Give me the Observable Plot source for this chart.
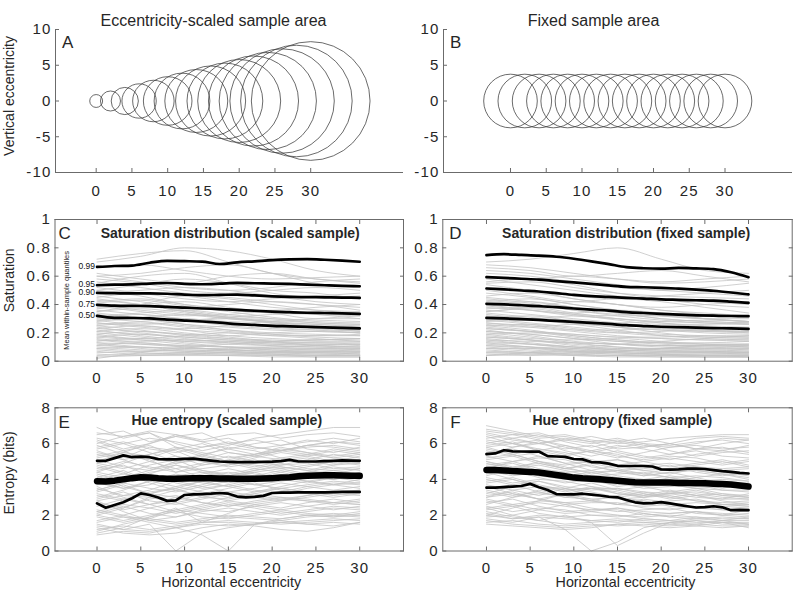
<!DOCTYPE html>
<html><head><meta charset="utf-8">
<script src="https://cdn.jsdelivr.net/npm/d3@7"></script>
<script src="https://cdn.jsdelivr.net/npm/@observablehq/plot@0.6"></script>
<style>
body{margin:0;background:#fff;}
#root{position:relative;width:800px;height:593px;overflow:hidden;background:#fff;}
</style></head><body><div id="root"></div>
<script>
// ---------- data ----------
const eccTicks = [0,5,10,15,20,25,30];
const vertTicks = [-10,-5,0,5,10];
const satTicks = [0,0.2,0.4,0.6,0.8,1];
const entTicks = [0,2,4,6,8];

const circleX = [0,2,4,6,8,10,12,14,16,18,20,22,24,26,28,30];
const radiusScaled = [0.9,1.4,1.9,2.4,2.9,3.4,3.9,4.4,4.9,5.3,5.8,6.3,6.8,7.3,7.8,8.3];
const radiusFixed = [3.75,3.75,3.75,3.75,3.75,3.75,3.75,3.75,3.75,3.75,3.75,3.75,3.75,3.75,3.75,3.75];

const satX = [0,5,10,15,20,25,30];
const satScaledGray = [
[.72,.76,.78,.70,.62,.58,.56],[.70,.74,.80,.78,.72,.64,.60],[.66,.68,.64,.60,.58,.59,.60],[.62,.58,.55,.60,.62,.58,.55],
[.60,.62,.66,.68,.62,.55,.52],[.58,.55,.50,.48,.50,.52,.50],[.56,.52,.48,.45,.42,.40,.38],[.55,.60,.62,.55,.48,.45,.46],
[.52,.48,.44,.42,.44,.46,.48],[.50,.46,.40,.36,.34,.33,.32],[.48,.50,.52,.50,.46,.42,.40],[.46,.42,.38,.40,.42,.40,.36],
[.45,.48,.46,.42,.38,.36,.35],[.43,.40,.36,.32,.30,.29,.28],[.42,.44,.40,.37,.36,.38,.40],[.40,.36,.33,.30,.28,.26,.25],
[.38,.40,.42,.38,.34,.30,.30],[.36,.33,.30,.28,.27,.26,.24],[.35,.37,.34,.30,.28,.30,.32],[.33,.30,.26,.24,.22,.21,.20],
[.32,.34,.36,.33,.30,.27,.26],[.30,.28,.25,.22,.20,.19,.18],[.29,.26,.28,.30,.28,.24,.22],[.28,.30,.26,.22,.19,.17,.16],
[.27,.24,.22,.20,.18,.18,.19],[.26,.28,.30,.27,.24,.22,.20],[.25,.22,.18,.16,.15,.14,.14],[.24,.20,.17,.15,.13,.12,.12],
[.23,.25,.22,.18,.16,.15,.15],[.22,.18,.15,.14,.13,.13,.12],[.21,.23,.20,.17,.14,.11,.10],[.20,.17,.14,.12,.11,.10,.10],
[.19,.16,.18,.20,.18,.16,.14],[.18,.15,.12,.10,.09,.09,.08],[.17,.19,.16,.13,.11,.10,.09],[.16,.13,.11,.10,.09,.08,.08],
[.15,.12,.10,.08,.07,.07,.06],[.14,.16,.13,.10,.08,.07,.07],[.13,.10,.08,.07,.06,.06,.05],[.12,.09,.07,.06,.06,.05,.05],
[.11,.13,.10,.08,.07,.06,.06],[.10,.08,.07,.06,.05,.05,.04],[.09,.07,.06,.05,.05,.04,.04],[.08,.06,.05,.05,.04,.04,.04],
[.07,.05,.05,.04,.04,.03,.03],[.05,.04,.04,.04,.03,.03,.03],[.03,.04,.05,.06,.05,.04,.04],[.02,.06,.10,.12,.14,.15,.16],
[.60,.56,.52,.50,.52,.56,.58],[.50,.54,.58,.55,.50,.48,.44],
[.44,.40,.35,.31,.29,.27,.26],[.41,.43,.39,.35,.31,.28,.27],[.39,.35,.32,.33,.35,.33,.30],[.37,.39,.35,.31,.27,.25,.24],
[.34,.31,.29,.31,.33,.34,.33],[.31,.33,.29,.25,.23,.22,.22],[.29,.31,.33,.31,.27,.23,.21],[.27,.25,.23,.25,.26,.24,.21],
[.25,.27,.24,.21,.19,.18,.18],[.23,.21,.19,.18,.20,.21,.20],[.21,.19,.17,.15,.14,.15,.16],[.19,.21,.19,.16,.14,.13,.13],
[.17,.15,.14,.13,.12,.12,.11],[.15,.14,.15,.14,.12,.11,.10],[.13,.12,.11,.10,.10,.09,.09],[.11,.10,.09,.09,.08,.08,.07],
[.09,.10,.09,.08,.07,.07,.07],[.06,.07,.08,.07,.06,.06,.05],[.04,.05,.06,.08,.10,.11,.12],[.35,.40,.46,.44,.40,.36,.34]
];
const satFixedGray = [
[.70,.72,.76,.80,.72,.64,.62],[.68,.66,.62,.58,.55,.56,.58],[.66,.64,.60,.62,.64,.60,.56],[.62,.60,.56,.52,.50,.48,.46],
[.60,.58,.60,.58,.56,.58,.60],[.58,.54,.50,.46,.44,.42,.40],[.56,.58,.54,.48,.44,.40,.38],[.54,.50,.46,.44,.46,.48,.50],
[.52,.50,.44,.40,.36,.34,.32],[.50,.46,.42,.44,.42,.38,.34],[.48,.45,.40,.36,.34,.33,.32],[.46,.48,.44,.40,.38,.40,.42],
[.45,.42,.38,.34,.30,.28,.27],[.43,.40,.36,.33,.32,.30,.28],[.42,.44,.40,.36,.32,.30,.30],[.40,.36,.32,.30,.28,.27,.26],
[.38,.36,.34,.36,.34,.30,.28],[.36,.33,.30,.27,.24,.22,.21],[.35,.37,.33,.29,.26,.26,.27],[.33,.30,.27,.24,.22,.20,.19],
[.32,.30,.32,.30,.27,.24,.22],[.30,.27,.24,.21,.19,.18,.17],[.29,.26,.22,.20,.21,.22,.22],[.28,.29,.26,.22,.18,.16,.15],
[.27,.24,.21,.18,.16,.15,.15],[.26,.24,.26,.24,.20,.17,.16],[.25,.22,.18,.15,.13,.12,.12],[.24,.21,.17,.14,.12,.11,.11],
[.23,.21,.19,.17,.16,.15,.14],[.22,.18,.14,.12,.11,.11,.10],[.21,.19,.16,.12,.10,.09,.09],[.20,.17,.13,.10,.09,.09,.08],
[.19,.16,.15,.16,.14,.12,.11],[.18,.15,.11,.09,.08,.08,.07],[.17,.15,.12,.10,.08,.07,.07],[.16,.13,.10,.08,.07,.07,.06],
[.15,.12,.09,.07,.06,.06,.06],[.14,.12,.10,.08,.07,.06,.05],[.13,.10,.08,.06,.05,.05,.05],[.12,.10,.07,.05,.05,.04,.04],
[.11,.09,.07,.06,.05,.04,.04],[.10,.08,.06,.05,.04,.04,.04],[.09,.07,.05,.04,.04,.04,.03],[.08,.06,.05,.04,.04,.03,.03],
[.07,.06,.04,.04,.03,.03,.03],[.06,.05,.04,.03,.03,.03,.03],[.05,.04,.05,.07,.09,.10,.10],[.04,.06,.09,.12,.14,.16,.18],
[.64,.62,.58,.54,.50,.52,.55],[.55,.56,.52,.48,.46,.45,.44],
[.44,.41,.36,.32,.29,.27,.26],[.41,.42,.38,.34,.30,.28,.27],[.39,.36,.33,.32,.32,.30,.28],[.37,.38,.34,.30,.27,.25,.24],
[.34,.31,.28,.27,.28,.29,.28],[.31,.32,.28,.24,.22,.21,.21],[.29,.30,.29,.26,.23,.21,.20],[.27,.25,.22,.22,.23,.22,.20],
[.25,.26,.23,.20,.18,.17,.17],[.23,.21,.19,.17,.17,.18,.18],[.21,.19,.16,.14,.13,.13,.14],[.19,.20,.18,.15,.13,.12,.12],
[.17,.15,.13,.12,.11,.11,.10],[.15,.14,.13,.12,.11,.10,.09],[.13,.12,.10,.09,.09,.08,.08],[.11,.10,.09,.08,.07,.07,.06],
[.09,.09,.08,.07,.06,.06,.06],[.06,.06,.07,.06,.05,.05,.05],[.04,.05,.06,.07,.09,.11,.12],[.35,.38,.42,.40,.36,.33,.31]
];

const qX = [0,2,4,6,8,10,12,14,16,18,20,22,24,26,28,30];
const qLabels = ["0.99","0.95","0.90","0.75","0.50"];
const satScaledQ = [
[.665,.672,.675,.695,.708,.706,.703,.686,.698,.705,.713,.718,.720,.716,.710,.702],
[.536,.540,.542,.548,.552,.546,.543,.547,.553,.550,.548,.545,.540,.536,.532,.529],
[.482,.480,.478,.478,.476,.470,.466,.468,.470,.464,.458,.454,.452,.451,.449,.447],
[.398,.392,.390,.389,.384,.378,.372,.368,.362,.356,.350,.346,.342,.340,.337,.334],
[.320,.306,.305,.302,.294,.287,.280,.272,.262,.256,.249,.246,.242,.239,.235,.231]
];
const satFixedQ = [
[.748,.755,.750,.745,.737,.723,.705,.685,.664,.656,.653,.658,.655,.650,.628,.593],
[.593,.588,.582,.576,.565,.556,.546,.535,.525,.522,.518,.512,.505,.497,.485,.471],
[.513,.507,.499,.492,.480,.468,.459,.454,.447,.442,.436,.433,.430,.427,.420,.412],
[.405,.401,.395,.388,.381,.372,.364,.357,.347,.340,.334,.329,.324,.321,.319,.318],
[.306,.302,.297,.291,.284,.277,.270,.263,.254,.248,.243,.240,.237,.234,.231,.228]
];

const entX = [0,3,6,9,12,15,18,21,24,27,30];
const entScaledGray = [
[6.9,6.3,6.6,6.0,5.6,5.9,6.3,6.5,6.7,6.9,6.9],[6.5,6.7,6.1,6.4,6.6,6.0,5.7,5.9,6.2,6.0,6.3],
[6.2,5.7,6.0,6.5,6.1,6.3,5.8,5.6,5.9,6.1,5.9],[6.0,6.4,6.6,5.8,5.4,5.7,6.0,6.2,5.7,5.5,5.8],
[5.9,5.4,5.2,5.7,6.0,5.5,5.3,5.6,5.9,5.8,5.6],[5.7,6.0,5.5,5.0,5.3,5.8,5.6,5.2,5.4,5.7,5.5],
[5.5,5.2,5.8,5.6,5.0,4.8,5.2,5.5,5.3,5.0,5.3],[5.3,5.6,5.0,4.6,4.9,5.3,5.0,4.8,5.1,5.4,5.2],
[5.1,4.7,4.5,5.0,5.4,5.0,4.7,5.0,5.2,4.9,5.0],[4.9,5.3,5.1,4.4,4.6,4.8,5.1,4.7,4.5,4.8,4.9],
[4.7,4.3,4.8,5.1,4.5,4.2,4.5,4.8,4.9,4.6,4.7],[4.5,4.8,4.2,4.0,4.3,4.6,4.3,4.1,4.4,4.7,4.5],
[4.3,3.9,4.4,4.6,4.1,3.9,4.2,4.5,4.2,4.0,4.3],[4.1,4.5,3.9,3.6,3.9,4.2,4.4,4.0,3.8,4.1,4.2],
[3.9,3.5,3.7,4.2,4.4,4.0,3.7,3.9,4.1,4.3,4.0],[3.7,4.0,4.3,3.8,3.5,3.7,4.0,4.2,3.9,3.7,3.8],
[3.5,3.1,3.4,3.9,3.6,3.3,3.5,3.8,3.6,3.4,3.6],[3.3,3.7,3.2,3.0,3.4,3.7,3.4,3.2,3.5,3.7,3.5],
[3.1,2.8,3.3,3.5,3.0,2.9,3.2,3.5,3.3,3.1,3.3],[2.9,3.3,2.8,2.6,2.9,3.2,3.0,2.8,3.0,3.2,3.1],
[2.7,2.4,2.9,3.1,2.7,2.5,2.8,3.0,2.8,2.7,2.9],[2.5,2.9,2.6,2.2,2.5,2.8,2.6,2.4,2.7,2.9,2.7],
[2.3,2.0,2.4,2.7,2.3,2.2,2.5,2.7,2.5,2.3,2.5],[2.1,2.5,2.1,1.9,2.2,2.4,2.2,2.0,2.2,2.4,2.3],
[1.9,1.6,1.9,2.2,1.9,1.8,2.0,2.2,2.0,1.9,2.1],[1.7,2.0,1.7,1.5,1.7,1.9,1.8,1.7,1.9,2.0,1.9],
[1.5,1.2,1.1,1.3,1.6,1.6,1.5,1.6,1.7,1.8,1.7],[1.3,1.0,0.9,1.0,1.3,1.5,1.4,1.2,1.1,1.3,1.6],
[1.1,1.5,1.8,2.3,2.6,3.0,3.2,3.0,2.9,2.7,2.6],[1.0,1.3,1.9,2.4,1.6,2.1,2.6,2.8,3.1,3.3,3.4],
[6.1,5.6,5.9,5.3,4.8,5.1,5.4,5.8,5.5,5.2,5.1],[5.6,5.1,4.6,4.9,5.2,4.9,4.6,4.4,4.7,5.0,4.8],
[4.8,4.4,3.8,3.4,3.7,4.1,4.4,4.6,4.3,4.0,4.4],[4.2,3.6,3.2,3.5,3.9,3.6,3.3,3.6,3.9,4.1,3.9],
[3.6,3.0,2.6,2.8,3.2,3.5,3.8,3.4,3.2,3.0,3.2],[2.8,2.2,1.7,1.9,2.3,2.6,2.4,2.1,2.3,2.5,2.4],
[5.0,5.5,6.0,6.4,6.1,5.7,5.4,5.6,5.9,6.1,6.0],[4.4,4.9,5.4,5.7,5.3,5.0,5.3,5.6,5.4,5.2,5.4],
[3.4,3.8,4.3,4.8,4.5,4.3,4.6,4.9,4.6,4.5,4.6],[2.0,2.4,3.0,3.4,3.1,2.8,3.1,3.3,3.6,3.8,3.7],
[1.4,1.2,1.5,0.0,1.0,1.3,1.5,1.6,1.5,1.4,1.6],[2.2,1.9,1.6,1.3,0.9,0.0,1.5,1.8,2.0,1.9,2.0],
[6.3,6.0,6.3,6.1,5.8,6.0,6.2,5.9,6.1,6.3,6.1],[5.8,6.1,5.7,5.5,5.8,6.1,5.8,5.6,5.8,5.9,5.7],
[5.4,5.1,5.4,5.8,5.5,5.2,5.4,5.7,5.5,5.3,5.5],[5.2,5.5,5.3,4.9,5.1,5.5,5.3,5.1,5.3,5.6,5.4],
[4.9,4.6,5.0,5.3,5.0,4.7,4.9,5.2,5.0,4.8,5.1],[4.6,5.0,4.7,4.4,4.8,5.0,4.8,4.6,4.8,5.0,4.9],
[4.4,4.1,4.5,4.8,4.4,4.2,4.5,4.7,4.5,4.3,4.6],[4.0,4.3,4.1,3.9,4.2,4.4,4.2,4.0,4.3,4.5,4.3],
[3.8,3.5,3.9,4.1,3.8,3.6,3.9,4.1,3.9,3.7,4.0],[3.4,3.8,3.5,3.3,3.6,3.9,3.7,3.5,3.7,3.9,3.8],
[3.2,2.9,3.2,3.6,3.3,3.0,3.3,3.5,3.3,3.2,3.4],[2.8,3.1,3.0,2.7,3.0,3.3,3.1,2.9,3.1,3.3,3.2],
[2.6,2.3,2.6,3.0,2.7,2.5,2.7,2.9,2.8,2.6,2.8],[2.2,2.6,2.4,2.1,2.4,2.7,2.5,2.3,2.5,2.7,2.6],
[2.0,1.7,2.0,2.3,2.1,1.9,2.1,2.3,2.1,2.0,2.2],[1.6,1.9,1.8,1.6,1.8,2.0,1.9,1.8,2.0,2.1,2.0],
[1.2,1.4,1.2,1.4,1.6,1.7,1.6,1.5,1.6,1.7,1.8],[0.9,1.1,1.0,1.3,1.5,1.4,1.5,1.7,1.5,1.6,1.5],
[6.6,6.4,6.7,6.5,6.2,6.5,6.6,6.3,6.5,6.6,6.4],[3.0,3.4,3.9,4.3,4.0,3.8,4.1,4.4,4.1,4.0,4.2]
];
const entFixedGray = [
[7.0,6.7,6.4,6.5,6.2,6.0,6.1,6.3,6.4,6.5,6.5],[6.7,6.5,6.6,6.2,6.0,6.2,5.9,5.8,6.0,6.3,6.2],
[6.5,6.2,6.0,6.3,6.1,5.7,5.8,6.0,5.7,5.6,5.9],[6.3,6.5,6.2,5.8,5.5,5.8,6.0,5.6,5.3,5.5,5.6],
[6.1,5.8,6.0,5.7,5.9,5.5,5.2,5.4,5.6,5.3,5.2],[5.9,6.1,5.6,5.3,5.6,5.4,5.0,5.2,5.0,4.8,5.0],
[5.7,5.4,5.7,5.5,5.1,4.8,5.0,4.7,4.9,5.1,4.8],[5.5,5.7,5.3,4.9,5.0,5.1,4.7,4.5,4.7,4.5,4.6],
[5.3,5.0,5.2,5.1,4.7,4.5,4.6,4.8,4.4,4.2,4.4],[5.1,5.3,4.9,4.6,4.8,4.4,4.2,4.4,4.5,4.3,4.1],
[4.9,4.6,4.8,4.5,4.2,4.3,4.4,4.1,3.9,4.0,3.9],[4.7,4.9,4.5,4.2,4.4,4.1,3.8,3.9,4.1,3.8,3.7],
[4.5,4.2,4.4,4.3,3.9,3.7,3.9,3.7,3.5,3.6,3.5],[4.3,4.5,4.1,3.8,4.0,3.8,3.5,3.6,3.7,3.4,3.3],
[4.1,3.8,4.0,3.9,3.6,3.4,3.6,3.3,3.1,3.2,3.1],[3.9,4.1,3.7,3.4,3.5,3.5,3.2,3.0,3.2,3.0,2.9],
[3.7,3.4,3.6,3.5,3.1,2.9,3.0,3.1,2.8,2.7,2.8],[3.5,3.7,3.3,3.0,3.2,3.0,2.7,2.8,2.9,2.6,2.6],
[3.3,3.0,3.2,3.1,2.8,2.6,2.8,2.5,2.4,2.5,2.4],[3.1,3.3,2.9,2.6,2.7,2.7,2.4,2.3,2.5,2.3,2.2],
[2.9,2.6,2.8,2.7,2.4,2.2,2.3,2.4,2.1,2.0,2.1],[2.7,2.9,2.5,2.2,2.3,2.3,2.0,2.1,2.2,2.0,1.9],
[2.5,2.2,2.4,2.3,2.0,1.9,2.1,1.9,1.8,1.9,1.8],[2.3,2.5,2.1,1.9,2.0,2.0,1.8,1.7,1.9,1.7,1.7],
[2.1,1.8,2.0,1.9,1.7,1.6,1.8,1.7,1.6,1.6,1.6],[1.9,2.0,1.7,1.5,1.6,1.7,1.6,1.5,1.7,1.5,1.5],
[1.7,1.5,1.4,1.3,1.4,1.5,1.6,1.5,1.4,1.3,1.4],[1.5,1.4,1.3,1.2,1.3,1.5,1.4,1.3,1.4,1.6,1.3],
[6.4,6.0,5.6,5.9,5.5,5.2,5.5,5.8,5.9,5.7,5.8],[5.8,5.4,5.0,4.6,4.9,4.6,4.3,4.6,4.8,5.0,4.7],
[5.0,4.6,4.2,4.4,4.0,3.6,3.8,4.1,3.8,3.5,3.8],[4.4,4.0,3.6,3.3,3.6,3.2,3.0,3.3,3.5,3.2,3.0],
[3.6,3.2,2.9,3.2,2.9,2.6,2.9,2.7,2.4,2.6,2.7],[2.6,3.0,3.4,3.1,2.8,3.1,3.3,3.0,2.8,2.6,2.5],
[2.0,2.4,2.8,3.2,3.5,3.3,3.0,3.2,3.4,3.1,3.0],[6.0,6.3,6.5,6.1,5.8,6.1,6.3,6.0,5.7,6.0,6.2],
[5.4,5.8,6.1,5.6,5.3,5.6,5.3,5.1,5.4,5.6,5.4],[4.6,5.0,5.3,4.9,4.5,4.8,4.5,4.3,4.6,4.4,4.2],
[3.2,3.6,3.9,3.5,3.8,3.4,3.1,3.4,3.1,2.9,3.2],[2.4,2.0,2.3,2.6,2.2,2.4,2.1,1.9,2.2,2.0,2.3],
[1.8,1.6,1.9,1.2,0.0,0.5,1.3,1.6,1.5,1.7,1.5],[2.2,1.9,1.7,2.0,1.6,0.3,1.0,1.6,1.8,1.7,1.9],
[6.8,6.6,6.3,6.4,6.1,6.3,6.0,5.9,6.1,6.2,6.0],[6.2,6.0,6.2,5.9,5.6,5.9,5.7,5.4,5.7,5.8,5.5],
[5.8,6.0,5.7,5.4,5.6,5.3,5.1,5.3,5.2,4.9,5.1],[5.6,5.3,5.5,5.2,4.9,5.1,4.8,4.9,4.7,4.6,4.7],
[5.2,5.4,5.0,4.8,5.0,4.7,4.5,4.6,4.5,4.3,4.3],[5.0,4.7,4.9,4.6,4.4,4.5,4.3,4.1,4.2,4.1,3.9],
[4.8,5.0,4.6,4.4,4.5,4.2,4.0,4.2,4.0,3.8,3.8],[4.6,4.3,4.5,4.1,3.9,4.0,3.8,3.6,3.8,3.6,3.5],
[4.4,4.6,4.2,4.0,4.1,3.8,3.6,3.7,3.5,3.4,3.4],[4.0,3.7,3.9,3.6,3.4,3.5,3.3,3.2,3.3,3.1,3.0],
[3.8,4.0,3.6,3.4,3.5,3.2,3.1,3.2,3.0,2.9,2.9],[3.4,3.1,3.3,3.0,2.9,3.0,2.8,2.6,2.7,2.6,2.5],
[3.0,3.2,2.9,2.7,2.8,2.6,2.5,2.6,2.4,2.3,2.3],[2.8,2.5,2.7,2.5,2.3,2.4,2.2,2.1,2.2,2.1,2.0],
[2.4,2.6,2.3,2.1,2.2,2.0,1.9,2.0,1.9,1.8,1.8],[2.0,1.8,1.9,1.8,1.7,1.8,1.7,1.6,1.7,1.6,1.5],
[1.6,1.7,1.5,1.4,1.5,1.4,1.5,1.4,1.5,1.4,1.4],[6.6,6.3,6.0,6.2,6.4,6.1,5.8,6.0,6.3,6.4,6.3],
[4.2,4.6,5.0,4.7,4.3,4.5,4.2,4.4,4.1,4.3,4.0],[3.0,3.4,3.1,3.5,3.3,3.0,3.2,2.9,3.1,2.8,2.6]
];

const entQX = [0,1,2,3,4,5,6,7,8,9,10,11,12,13,14,15,16,17,18,19,20,21,22,23,24,25,26,27,28,29,30];
const entScaledUpper = [5.04,5.04,5.19,5.34,5.24,5.27,5.24,5.13,5.12,5.12,5.15,5.16,5.10,5.05,5.00,4.98,4.97,4.97,4.97,4.98,4.99,5.02,5.09,5.00,5.00,5.00,5.02,5.04,5.06,5.05,5.04];
const entScaledMid   = [3.90,3.88,3.93,4.00,4.07,4.12,4.10,4.06,4.04,4.04,4.05,4.07,4.07,4.06,4.05,4.05,4.04,4.03,4.03,4.05,4.07,4.10,4.12,4.17,4.20,4.22,4.23,4.23,4.22,4.21,4.20];
const entScaledLower = [2.66,2.42,2.57,2.72,2.95,3.22,3.13,2.99,2.80,2.83,3.13,3.16,3.18,3.20,3.24,3.20,3.04,3.00,3.02,3.08,3.24,3.26,3.26,3.27,3.27,3.28,3.28,3.29,3.30,3.30,3.30];
const entFixedUpper = [5.41,5.45,5.63,5.57,5.56,5.55,5.56,5.30,5.28,5.26,5.14,5.12,4.97,4.95,4.88,4.76,4.75,4.75,4.75,4.72,4.56,4.55,4.56,4.60,4.60,4.58,4.52,4.46,4.42,4.36,4.33];
const entFixedMid   = [4.53,4.52,4.50,4.47,4.44,4.42,4.38,4.32,4.25,4.18,4.10,4.06,4.04,4.01,3.97,3.93,3.88,3.84,3.82,3.82,3.83,3.82,3.80,3.80,3.79,3.78,3.76,3.74,3.72,3.66,3.60];
const entFixedLower = [3.54,3.54,3.57,3.60,3.63,3.75,3.56,3.41,3.18,3.16,3.16,3.20,3.15,3.10,3.03,3.00,2.85,2.72,2.66,2.67,2.73,2.66,2.58,2.50,2.43,2.45,2.50,2.44,2.28,2.30,2.28];

// ---------- helpers ----------
const root = document.getElementById("root");
const font = '"Liberation Sans", Arial, Helvetica, sans-serif';
const axisColor = "#6b6b6b";
const textColor = "#262626";
const grayColor = "#c4c4c4";

function rows(xs, series) {
  return series.flatMap((ys, i) => ys.map((y, j) => ({id: i, x: xs[j], y})));
}
function fmt(d) { return String(d); }

function axes({yTicks, xPad, box, xDom, yDom}) {
  const m = [
    Plot.axisX(eccTicks, {anchor: "bottom", tickSize: -4, tickPadding: xPad, stroke: axisColor, fill: textColor, tickFormat: fmt, fontSize: 15}),
    Plot.axisY(yTicks, {anchor: "left", tickSize: -4, tickPadding: 8, stroke: axisColor, fill: textColor, tickFormat: fmt, fontSize: 15})
  ];
  if (box) {
    m.push(Plot.axisX(eccTicks, {anchor: "top", tickSize: -4, stroke: axisColor, tickFormat: () => ""}));
    m.push(Plot.axisY(yTicks, {anchor: "right", tickSize: -4, stroke: axisColor, tickFormat: () => ""}));
    m.push(Plot.frame({stroke: axisColor}));
  } else {
    m.push(Plot.ruleY([yDom[0]], {stroke: axisColor}));
    m.push(Plot.ruleX([xDom[0]], {stroke: axisColor}));
  }
  return m;
}

function make(cfg) {
  const svg = Plot.plot({
    width: cfg.w, height: cfg.h,
    marginLeft: cfg.mL, marginRight: cfg.mR, marginTop: cfg.mT, marginBottom: cfg.mB,
    style: {fontFamily: font, fontSize: "14px", color: textColor, background: "transparent", overflow: "visible"},
    x: {domain: cfg.xDom, label: null},
    y: {domain: cfg.yDom, label: null},
    r: cfg.r,
    marks: [...cfg.marks, ...axes(cfg)]
  });
  svg.style.position = "absolute";
  svg.style.left = cfg.left + "px";
  svg.style.top = cfg.top + "px";
  // widen the tick-label lettering, as in the reference
  svg.querySelectorAll("g[aria-label]").forEach(g => {
    if (/axis/.test(g.getAttribute("aria-label")) && g.querySelector("text")) g.style.letterSpacing = "1.2px";
  });
  root.appendChild(svg);
}

function label(text, o) {
  return Plot.text([text], {text: d => d, fill: textColor, ...o});
}
function ylabel(text, o) {
  return label(text, {frameAnchor: "left", rotate: -90, textAnchor: "middle", lineAnchor: "middle", ...o});
}

// ---------- panels A and B ----------
const circlesA = circleX.map((x, i) => ({x, r: radiusScaled[i]}));
const circlesB = circleX.map((x, i) => ({x, r: radiusFixed[i]}));
const rScale = {type: "linear", domain: [0, 10], range: [0, 71.5]};

make({left: 0, top: 0, w: 403, h: 200, mL: 55, mR: 0, mT: 29, mB: 28,
  xDom: [-5.69, 42.98], yDom: [-10, 10], yTicks: vertTicks, xPad: 17, box: false, r: rScale,
  marks: [
    Plot.dot(circlesA, {x: "x", y: 0, r: "r", stroke: "#3a3a3a", strokeWidth: 0.75, fill: "none"}),
    label("Eccentricity-scaled sample area", {frameAnchor: "top", lineAnchor: "top", dy: -14.5, dx: -16, fontSize: 16}),
    label("A", {frameAnchor: "top-left", lineAnchor: "top", textAnchor: "start", dx: 6.5, dy: 6, fontSize: 17}),
    ylabel("Vertical eccentricity", {dx: -45.5, dy: -5, fontSize: 14})
  ]});

make({left: 403, top: 0, w: 397, h: 200, mL: 40, mR: 8, mT: 29, mB: 28,
  xDom: [-9.37, 39.44], yDom: [-10, 10], yTicks: vertTicks, xPad: 17, box: false, r: rScale,
  marks: [
    Plot.dot(circlesB, {x: "x", y: 0, r: "r", stroke: "#3a3a3a", strokeWidth: 0.75, fill: "none"}),
    label("Fixed sample area", {frameAnchor: "top", lineAnchor: "top", dy: -14.5, dx: -24.5, fontSize: 16}),
    label("B", {frameAnchor: "top-left", lineAnchor: "top", textAnchor: "start", dx: 6.5, dy: 6, fontSize: 17})
  ]});

// ---------- panels C and D ----------
function satMarks(gray, q, letter, title, titleDx, letterDx, withLabels) {
  const m = [
    Plot.line(rows(satX, gray), {x: "x", y: "y", z: "id", stroke: grayColor, strokeWidth: 0.8, curve: "monotone-x"}),
    Plot.line(rows(qX, q), {x: "x", y: "y", z: "id", stroke: "#000", strokeWidth: 2.7, curve: "monotone-x"}),
    label(title, {frameAnchor: "top", lineAnchor: "top", dy: 9, dx: titleDx, fontSize: 14, fontWeight: "bold"}),
    label(letter, {frameAnchor: "top-left", lineAnchor: "top", textAnchor: "start", dx: letterDx, dy: 7.7, fontSize: 17})
  ];
  if (withLabels) {
    m.push(Plot.text(qLabels.map((t, i) => ({t, y: q[i][0]})), {x: 0, y: "y", text: "t", textAnchor: "end", dx: -2, dy: -0.8, fontSize: 8.5, fill: "#111"}));
    m.push(ylabel("Mean within-sample quantiles", {dx: 11.5, dy: 10, fontSize: 7.5}));
    m.push(ylabel("Saturation", {dx: -45.5, dy: -10, fontSize: 14}));
  }
  return m;
}

make({left: 0, top: 190, w: 403, h: 200, mL: 54.5, mR: 0, mT: 29, mB: 29.3,
  xDom: [-4.8, 35], yDom: [0, 1], yTicks: satTicks, xPad: 15, box: true,
  marks: satMarks(satScaledGray, satScaledQ, "C", "Saturation distribution (scaled sample)", 1, 3.5, true)});

make({left: 403, top: 190, w: 397, h: 200, mL: 39.3, mR: 8.3, mT: 29, mB: 29.3,
  xDom: [-5, 35], yDom: [0, 1], yTicks: satTicks, xPad: 15, box: true,
  marks: satMarks(satFixedGray, satFixedQ, "D", "Saturation distribution (fixed sample)", 8.6, 6.5, false)});

// ---------- panels E and F ----------
function entMarks(gray, upper, mid, lower, letter, title, titleDx, letterDx, xlabDx, withY) {
  const m = [
    Plot.line(rows(entX, gray), {x: "x", y: "y", z: "id", stroke: grayColor, strokeWidth: 0.8}),
    Plot.line(rows(entQX, [upper, lower]), {x: "x", y: "y", z: "id", stroke: "#000", strokeWidth: 2.7}),
    Plot.line(rows(entQX, [mid]), {x: "x", y: "y", z: "id", stroke: "#000", strokeWidth: 6.5}),
    label(title, {frameAnchor: "top", lineAnchor: "top", dy: 7.7, dx: titleDx, fontSize: 14, fontWeight: "bold"}),
    label(letter, {frameAnchor: "top-left", lineAnchor: "top", textAnchor: "start", dx: letterDx, dy: 7.7, fontSize: 17}),
    label("Horizontal eccentricity", {frameAnchor: "bottom", lineAnchor: "top", dy: 26, dx: xlabDx, fontSize: 14.3})
  ];
  if (withY) m.push(ylabel("Entropy (bits)", {dx: -45.5, dy: -6.5, fontSize: 14}));
  return m;
}

make({left: 0, top: 380, w: 403, h: 213, mL: 54.5, mR: 0, mT: 27.3, mB: 42.5,
  xDom: [-4.8, 35], yDom: [0, 8], yTicks: entTicks, xPad: 15, box: true,
  marks: entMarks(entScaledGray, entScaledUpper, entScaledMid, entScaledLower, "E", "Hue entropy (scaled sample)", -2.5, 3.5, 2, true)});

make({left: 403, top: 380, w: 397, h: 213, mL: 39.3, mR: 8.3, mT: 27.3, mB: 42.5,
  xDom: [-5, 35], yDom: [0, 8], yTicks: entTicks, xPad: 15, box: true,
  marks: entMarks(entFixedGray, entFixedUpper, entFixedMid, entFixedLower, "F", "Hue entropy (fixed sample)", 4.8, 7.5, 8, false)});
</script>
</body></html>
